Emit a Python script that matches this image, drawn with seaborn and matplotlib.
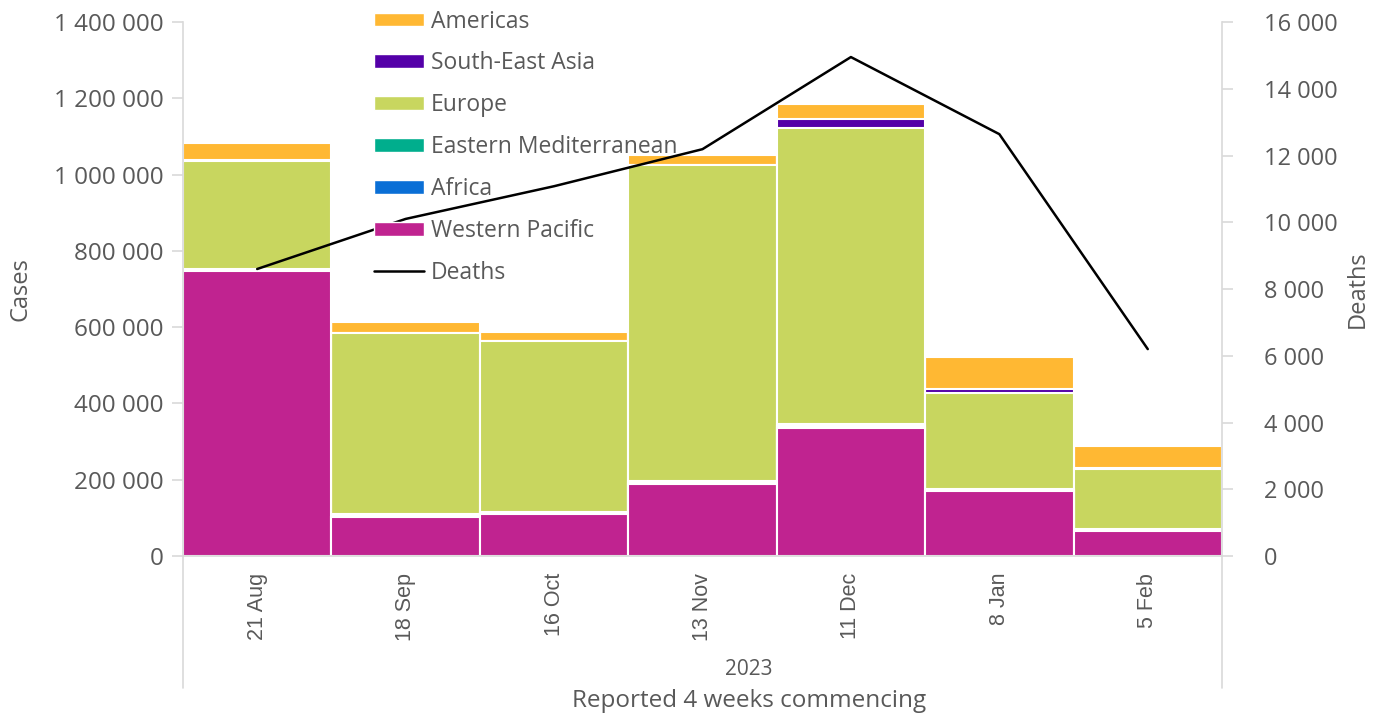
import numpy as np
import pandas as pd
import seaborn as sns
import matplotlib.pyplot as plt
from matplotlib.patches import Patch
from matplotlib.lines import Line2D
from matplotlib.ticker import FuncFormatter

# data
periods = ["21 Aug", "18 Sep", "16 Oct", "13 Nov", "11 Dec", "8 Jan", "5 Feb"]
western_pacific = [748000, 102000, 110000, 188000, 336000, 171000, 66000]
africa = [2000, 2000, 2000, 6000, 6000, 3000, 2000]
eastern_med = [2000, 5000, 4000, 4000, 4000, 3000, 2000]
europe = [283000, 476000, 448000, 826000, 776000, 250000, 158000]
south_east_asia = [2000, 1000, 1000, 2000, 24000, 12000, 4000]
americas = [46000, 27000, 22000, 25000, 39000, 83000, 57000]
deaths = [8600, 10100, 11080, 12190, 14950, 12640, 6200]

regions = ["Western Pacific", "Africa", "Eastern Mediterranean", "Europe",
           "South-East Asia", "Americas"]
colors = {"Western Pacific": "#C02390", "Africa": "#0A6FD6",
          "Eastern Mediterranean": "#00AE8D", "Europe": "#C8D65F",
          "South-East Asia": "#5400A8", "Americas": "#FFB833"}

df = pd.DataFrame({"period": periods, "Western Pacific": western_pacific,
                   "Africa": africa, "Eastern Mediterranean": eastern_med,
                   "Europe": europe, "South-East Asia": south_east_asia,
                   "Americas": americas})
cum = df[regions].cumsum(axis=1)

sns.set_style("white")
plt.rcParams["font.family"] = ["Open Sans", "DejaVu Sans"]
grey = "#595959"
line_grey = "#D9D9D9"

fig = plt.figure(figsize=(13.85, 7.17), dpi=100)
ax = fig.add_axes([0.1321, 0.2245, 0.7502, 0.7448])

# stacked bars: draw the cumulative totals from the top down
for r in regions[::-1]:
    sns.barplot(x=df["period"], y=cum[r], color=colors[r], width=1.0,
                saturation=1, edgecolor="white", linewidth=1.5, ax=ax)

ax.set_xlim(-0.5, 6.5)
ax.set_ylim(0, 1400000)
ax.set_yticks(np.arange(0, 1400001, 200000))
fmt = FuncFormatter(lambda v, p: f"{int(v):,}".replace(",", " "))
ax.yaxis.set_major_formatter(fmt)
ax.set_ylabel("Cases", color=grey, fontsize=17, labelpad=15)
ax.set_xlabel("")
ax.tick_params(axis="y", colors=line_grey, labelcolor=grey, labelsize=17.5,
               length=8, width=1.2, direction="out", left=True, pad=6)
ax.tick_params(axis="x", length=0, pad=12)
ax.set_xticks(range(len(periods)))
ax.set_xticklabels(periods, rotation=90, color=grey, fontsize=15.5,
                   family="Liberation Sans")
for s in ["top", "right"]:
    ax.spines[s].set_visible(False)
for s in ["left", "bottom"]:
    ax.spines[s].set_color(line_grey)
    ax.spines[s].set_linewidth(1.2)

# deaths on the secondary axis
ax2 = ax.twinx()
sns.lineplot(x=np.arange(len(periods)), y=deaths, color="black",
             linewidth=1.8, ax=ax2)
ax2.set_ylim(0, 16000)
ax2.set_yticks(np.arange(0, 16001, 2000))
ax2.yaxis.set_major_formatter(fmt)
ax2.set_ylabel("Deaths", color=grey, fontsize=17, rotation=90, labelpad=6)
ax2.tick_params(axis="y", colors=line_grey, labelcolor=grey, labelsize=17,
                length=8, width=1.2, direction="out", right=True, pad=22)
for s in ["top", "left", "bottom"]:
    ax2.spines[s].set_visible(False)
ax2.spines["right"].set_color(line_grey)
ax2.spines["right"].set_linewidth(1.2)

# group divider lines under the category axis
for xa in [0, 1]:
    ax.plot([xa, xa], [0, -0.247], transform=ax.transAxes, color=line_grey,
            lw=1.2, clip_on=False)
fig.text(0.5405, 0.066, "2023", ha="center", va="center", color=grey,
         fontsize=15)
fig.text(0.5405, 0.022, "Reported 4 weeks commencing", ha="center",
         va="center", color=grey, fontsize=17.5)

handles = [Patch(facecolor=colors[r], edgecolor="white") for r in regions[::-1]]
handles.append(Line2D([0], [0], color="black", lw=1.8))
labels = regions[::-1] + ["Deaths"]
leg = ax2.legend(handles, labels, loc="upper left",
                 bbox_to_anchor=(0.164, 1.062), frameon=False, fontsize=16.5,
                 labelcolor=grey, handlelength=2.2, handleheight=0.55,
                 labelspacing=0.78, handletextpad=0.27)

fig.savefig("out.png", dpi=100)
